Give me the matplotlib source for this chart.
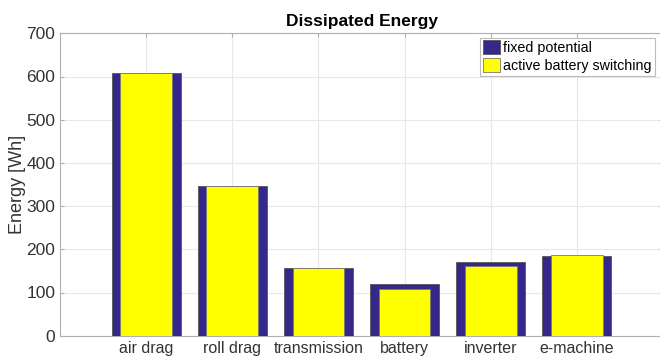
import matplotlib
matplotlib.use("Agg")
import matplotlib.pyplot as plt
import numpy as np

plt.rcParams['font.family'] = ['Liberation Sans', 'DejaVu Sans']

categories = ['air drag', 'roll drag', 'transmission', 'battery', 'inverter', 'e-machine']
fixed_potential = [609, 347, 157, 119, 170, 184]
active_switching = [609, 347, 157, 108, 162, 187]

x = np.arange(1, len(categories) + 1)

fig = plt.figure(figsize=(6.6, 3.6), dpi=100)
ax = fig.add_axes([60 / 660, 24.3 / 360, 603 / 660, 302.4 / 360])

ax.bar(x, fixed_potential, width=0.8, color='#36288A', edgecolor='#555555',
       linewidth=0.6, label='fixed potential', zorder=3)
ax.bar(x, active_switching, width=0.6, color='#FFFF00', edgecolor='#777777',
       linewidth=0.6, label='active battery switching', zorder=4)

ax.set_xlim(0, 7)
ax.set_ylim(0, 700)
ax.set_xticks(x)
ax.set_xticklabels(categories, fontsize=11.5)
ax.set_yticks(np.arange(0, 701, 100))
ax.grid(True, color='#e8e8e8', linewidth=0.8, zorder=0)
ax.tick_params(direction='in', length=3, colors='#b0b0b0', labelcolor='#333333',
               top=True, right=True)
ax.tick_params(axis='y', labelsize=12.5)
for s in ax.spines.values():
    s.set_color('#b0b0b0')
    s.set_linewidth(0.8)

ax.set_ylabel('Energy [Wh]', fontsize=13, color='#333333')
ax.yaxis.set_label_coords(-0.056, 0.5)
ax.set_title('Dissipated Energy', fontsize=12.5, fontweight='bold', pad=5)

leg = ax.legend(loc='upper right', bbox_to_anchor=(0.986, 0.986), fontsize=10.3,
                frameon=True, fancybox=False, edgecolor='#aaaaaa',
                handlelength=1.2, handleheight=1.1, handletextpad=0.2,
                borderpad=0.2, labelspacing=0.2, borderaxespad=0)
leg.get_frame().set_linewidth(0.8)

fig.savefig('out.png', dpi=100)
